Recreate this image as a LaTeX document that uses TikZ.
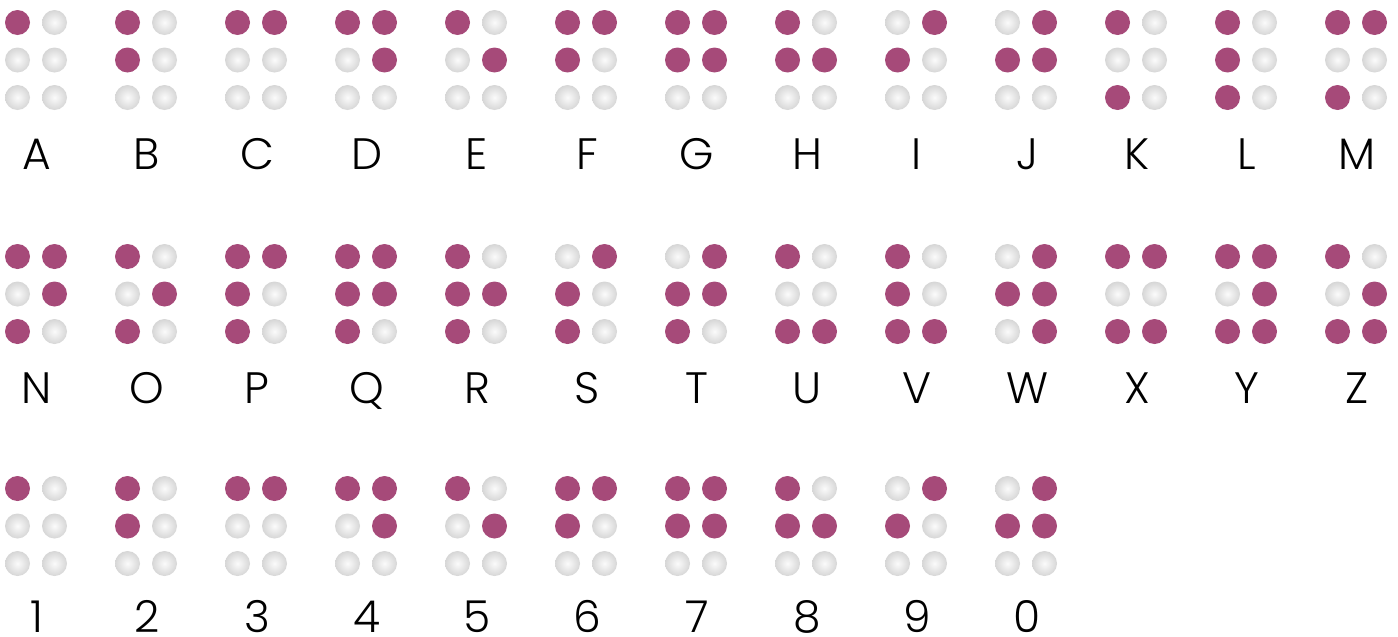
\documentclass[tikz,border=0pt]{standalone}
\usepackage{fontspec}
\setmainfont{Poppins Light}
\definecolor{bpurple}{HTML}{A64A79}
\definecolor{bgrayout}{HTML}{D6D6D6}
\definecolor{bgrayin}{HTML}{FBFBFB}
\tikzset{
  doton/.style={fill=bpurple},
  dotoff/.style={inner color=bgrayin, outer color=bgrayout},
  lab/.style={anchor=base, inner sep=0pt, text depth=0pt, font=\fontsize{44}{44}\selectfont}
}
% #1 column index, #2 y of top dot row, #3 six flags, #4 label, #5 node name, #6 baseline offset
\newcommand\bcell[6]{%
  \foreach \d [count=\k from 0] in {#3}{%
    \pgfmathtruncatemacro\cc{int(\k/3)}%
    \pgfmathtruncatemacro\rr{mod(\k,3)}%
    \ifnum\d=1
      \fill[doton] ({17.5+110*#1+37*\cc}, {#2+37.5*\rr}) circle[radius=12.5];
    \else
      \shade[dotoff] ({17.5+110*#1+37*\cc}, {#2+37.5*\rr}) circle[radius=12.5];
    \fi
  }%
  \node[lab] (#5) at ({37+110*#1}, {#2+#6}) {#4};
}
\begin{document}
\begin{tikzpicture}[x=1pt,y=-1pt]
\useasboundingbox (0,0) rectangle (1398,637);
% row 1
\bcell{0}{22.5}{1,0,0,0,0,0}{A}{lA}{146.5}
\bcell{1}{22.5}{1,1,0,0,0,0}{B}{lB}{146.5}
\bcell{2}{22.5}{1,0,0,1,0,0}{C}{lC}{146.5}
\bcell{3}{22.5}{1,0,0,1,1,0}{D}{lD}{146.5}
\bcell{4}{22.5}{1,0,0,0,1,0}{E}{lE}{146.5}
\bcell{5}{22.5}{1,1,0,1,0,0}{F}{lF}{146.5}
\bcell{6}{22.5}{1,1,0,1,1,0}{G}{lG}{146.5}
\bcell{7}{22.5}{1,1,0,0,1,0}{H}{lH}{146.5}
\bcell{8}{22.5}{0,1,0,1,0,0}{I}{lI}{146.5}
\bcell{9}{22.5}{0,1,0,1,1,0}{J}{lJ}{146.5}
\bcell{10}{22.5}{1,0,1,0,0,0}{K}{lK}{146.5}
\bcell{11}{22.5}{1,1,1,0,0,0}{L}{lL}{146.5}
\bcell{12}{22.5}{1,0,1,1,0,0}{M}{lM}{146.5}
% row 2
\bcell{0}{256.5}{1,0,1,1,1,0}{N}{lN}{146.5}
\bcell{1}{256.5}{1,0,1,0,1,0}{O}{lO}{146.5}
\bcell{2}{256.5}{1,1,1,1,0,0}{P}{lP}{146.5}
\bcell{3}{256.5}{1,1,1,1,1,0}{Q}{lQ}{146.5}
\bcell{4}{256.5}{1,1,1,0,1,0}{R}{lR}{146.5}
\bcell{5}{256.5}{0,1,1,1,0,0}{S}{lS}{146.5}
\bcell{6}{256.5}{0,1,1,1,1,0}{T}{lT}{146.5}
\bcell{7}{256.5}{1,0,1,0,0,1}{U}{lU}{146.5}
\bcell{8}{256.5}{1,1,1,0,0,1}{V}{lV}{146.5}
\bcell{9}{256.5}{0,1,0,1,1,1}{W}{lW}{146.5}
\bcell{10}{256.5}{1,0,1,1,0,1}{X}{lX}{146.5}
\bcell{11}{256.5}{1,0,1,1,1,1}{Y}{lY}{146.5}
\bcell{12}{256.5}{1,0,1,0,1,1}{Z}{lZ}{146.5}
% row 3
\bcell{0}{488.5}{1,0,0,0,0,0}{1}{n1}{143.5}
\bcell{1}{488.5}{1,1,0,0,0,0}{2}{n2}{143.5}
\bcell{2}{488.5}{1,0,0,1,0,0}{3}{n3}{143.5}
\bcell{3}{488.5}{1,0,0,1,1,0}{4}{n4}{143.5}
\bcell{4}{488.5}{1,0,0,0,1,0}{5}{n5}{143.5}
\bcell{5}{488.5}{1,1,0,1,0,0}{6}{n6}{143.5}
\bcell{6}{488.5}{1,1,0,1,1,0}{7}{n7}{143.5}
\bcell{7}{488.5}{1,1,0,0,1,0}{8}{n8}{143.5}
\bcell{8}{488.5}{0,1,0,1,0,0}{9}{n9}{143.5}
\bcell{9}{488.5}{0,1,0,1,1,0}{0}{n0}{143.5}
\end{tikzpicture}
\end{document}
